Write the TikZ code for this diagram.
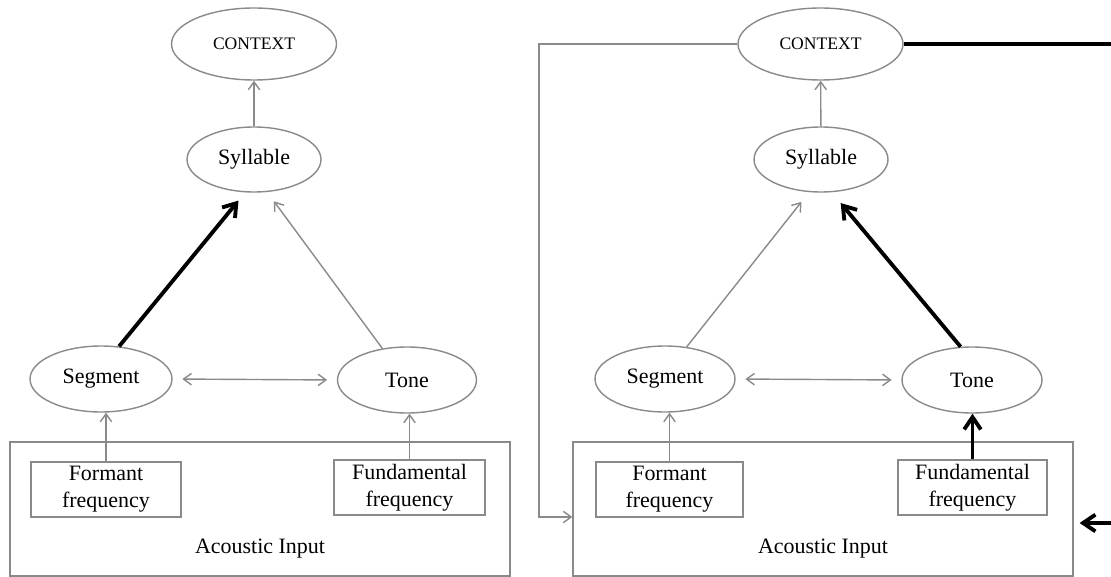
\documentclass[tikz,border=0pt]{standalone}
\usepackage{fontspec}
\setmainfont{Liberation Serif}
\usetikzlibrary{shapes.geometric,arrows.meta}
\definecolor{linegray}{RGB}{138,138,138}

\begin{document}
\begin{tikzpicture}[x=0.02cm, y=-0.02cm, font=\fontsize{12.5}{14.5}\selectfont,
	oval/.style={ellipse, draw=linegray, line width=0.8pt, inner sep=0pt},
	freqbox/.style={rectangle, draw=linegray, line width=0.8pt, inner sep=0pt, align=center, minimum height=1.1cm, font=\fontsize{12.5}{15.5}\selectfont},
	inbox/.style={rectangle, draw=linegray, line width=0.8pt, inner sep=0pt, minimum width=10cm, minimum height=2.68cm},
	ctxfont/.style={font=\fontsize{10}{12}\selectfont},
	greyarr/.style={draw=linegray, line width=0.8pt, -{Straight Barb[length=4.5pt,width=6.5pt]}},
	boldarr/.style={draw=black, line width=2.2pt, -{Straight Barb[length=7pt,width=9.5pt]}},
	boldln/.style={draw=black, line width=2.2pt}]
	\useasboundingbox (0,0) rectangle (1111,577);
	% left model
	\node[oval, ctxfont, minimum width=3.3cm, minimum height=1.44cm] (ctxL) at (254,44) {CONTEXT};
	\node[oval, minimum width=2.68cm, minimum height=1.3cm] (sylL) at (254,159.5) {Syllable};
	\node[oval, minimum width=2.84cm, minimum height=1.32cm] (segL) at (101,379) {Segment};
	\node[oval, minimum width=2.78cm, minimum height=1.32cm] (toneL) at (407,380) {Tone};
	\node[inbox] (inL) at (260,509) {};
	\node (inLtext) at (260,549) {Acoustic Input};
	\node[freqbox, minimum width=3cm] (formL) at (106,489.5) {Formant\\frequency};
	\node[freqbox, minimum width=3.02cm] (fundL) at (409.5,487.5) {Fundamental\\frequency};
	\draw[greyarr] (formL.north) -- (formL.north |- segL.south);
	\draw[greyarr] (fundL.north) -- (fundL.north |- toneL.south);
	\draw[greyarr, {Straight Barb[length=4.5pt,width=6.5pt]}-{Straight Barb[length=4.5pt,width=6.5pt]}, shorten <=5.5pt, shorten >=5.5pt] (segL.east) -- (toneL.west);
	\draw[boldarr, shorten >=6pt] (segL.61) -- (sylL.255);
	\draw[greyarr, shorten >=6.5pt] (toneL.128) -- (sylL.292);
	\draw[greyarr] (sylL) -- (ctxL);
	% right model
	\node[oval, ctxfont, minimum width=3.3cm, minimum height=1.44cm] (ctxR) at (820.5,44) {CONTEXT};
	\node[oval, minimum width=2.68cm, minimum height=1.3cm] (sylR) at (821,159.5) {Syllable};
	\node[oval, minimum width=2.8cm, minimum height=1.32cm] (segR) at (665,379) {Segment};
	\node[oval, minimum width=2.8cm, minimum height=1.32cm] (toneR) at (972,380) {Tone};
	\node[inbox] (inR) at (823,509) {};
	\node (inRtext) at (823,549) {Acoustic Input};
	\node[freqbox, minimum width=2.94cm] (formR) at (669.5,489.5) {Formant\\frequency};
	\node[freqbox, minimum width=2.98cm] (fundR) at (972.5,487.5) {Fundamental\\frequency};
	\draw[greyarr] (formR.north) -- (formR.north |- segR.south);
	\draw[boldarr] (fundR.north) -- (fundR.north |- toneR.south);
	\draw[greyarr, {Straight Barb[length=4.5pt,width=6.5pt]}-{Straight Barb[length=4.5pt,width=6.5pt]}, shorten <=5.5pt, shorten >=5.5pt] (segR.east) -- (toneR.west);
	\draw[greyarr, shorten >=7pt] (segR.56) -- (sylR.250);
	\draw[boldarr, shorten >=8pt] (toneR.109) -- (sylR.288);
	\draw[greyarr] (sylR) -- (ctxR);
	\coordinate (fbk) at (539,517);
	\draw[greyarr] (ctxR.west) -| (fbk) -- (fbk -| inR.west);
	\coordinate (outE) at (1111,44);
	\draw[boldln] (ctxR.east) -- (outE);
	\coordinate (inE) at (1111,523);
	\draw[boldarr, shorten >=3.4pt] (inE) -- (inE -| inR.east);
\end{tikzpicture}
\end{document}
